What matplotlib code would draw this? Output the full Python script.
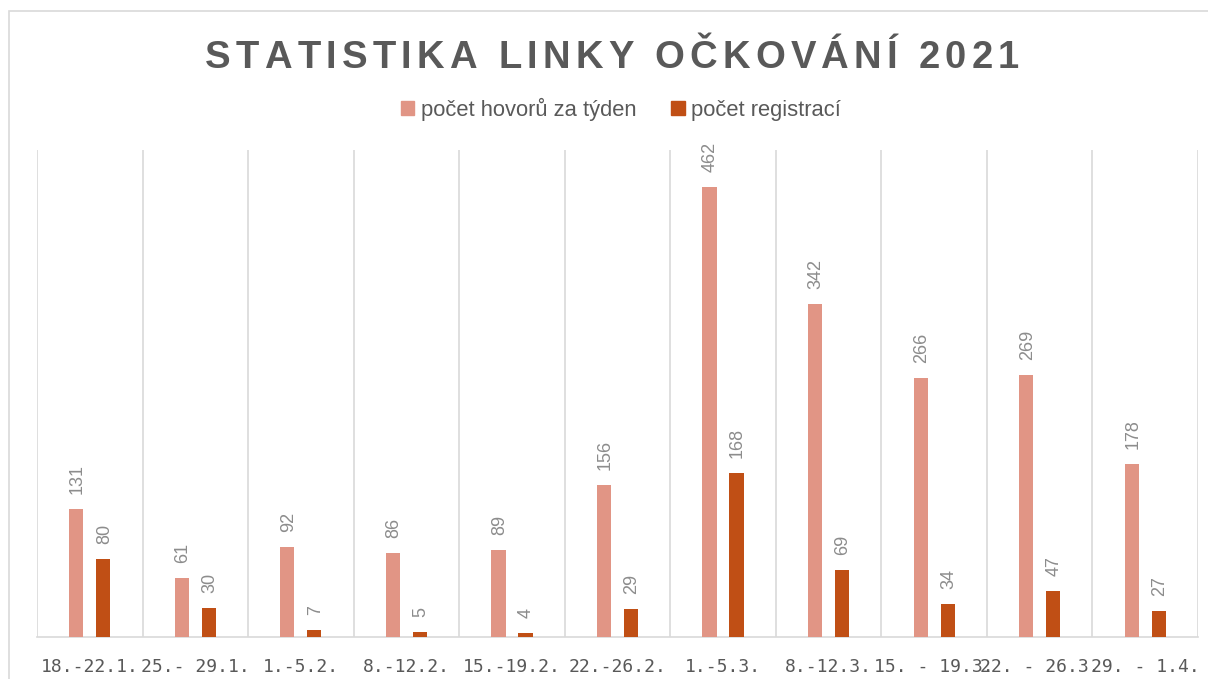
import matplotlib
matplotlib.use('Agg')
import matplotlib.pyplot as plt
from matplotlib.font_manager import FontProperties, findfont, get_font
from matplotlib.patches import Patch, Rectangle

# ----------
# Data
# ----------
weeks = ["18.-22.1.", "25.- 29.1.", "1.-5.2.", "8.-12.2.", "15.-19.2.", "22.-26.2.",
         "1.-5.3.", "8.-12.3.", "15. - 19.3.", "22. - 26.3.", "29. - 1.4."]
calls = [131, 61, 92, 86, 89, 156, 462, 342, 266, 269, 178]
regs = [80, 30, 7, 5, 4, 29, 168, 69, 34, 47, 27]

c_calls = "#E19585"
c_regs = "#C04F15"
c_text = "#595959"
c_grid = "#D9D9D9"

W, H = 1208, 679
fig = plt.figure(figsize=(W / 100, H / 100), dpi=100)
fig.patch.set_facecolor("white")

# chart border (cut off at right/bottom like the screenshot)
fig.patches.append(Rectangle((9 / W, -0.1), 1.1, 1 - 11 / H + 0.1, transform=fig.transFigure,
                             fill=False, edgecolor=c_grid, lw=1.2))

ax = fig.add_axes([37 / W, (H - 637) / H, 1161 / W, (637 - 150) / H])
x = list(range(len(weeks)))
bw = 0.135
off = 0.128
b1 = ax.bar([i - off for i in x], calls, bw, color=c_calls, zorder=3)
b2 = ax.bar([i + off for i in x], regs, bw, color=c_regs, zorder=3)

ax.set_xlim(-0.5, len(weeks) - 0.5)
ax.set_ylim(0, 500)
for i in range(len(weeks) + 1):
    ax.axvline(i - 0.5, color=c_grid, lw=1.2, zorder=1)
for s in ["top", "left", "right"]:
    ax.spines[s].set_visible(False)
ax.spines["bottom"].set_color(c_grid)
ax.spines["bottom"].set_linewidth(1.2)
ax.set_yticks([])
ax.patch.set_alpha(0)

# week labels: monospace gives the wide, letter-spaced look of the original
ax.set_xticks(x)
ax.set_xticklabels(weeks, family="DejaVu Sans Mono", fontsize=13, color=c_text)
ax.tick_params(axis="x", length=0, pad=15)

lab_font = dict(fontsize=13, color="#8C8C8C", rotation=90, family="Liberation Sans")
for bars, vals in ((b1, calls), (b2, regs)):
    for b, v in zip(bars, vals):
        ax.annotate(str(v), (b.get_x() + b.get_width() / 2, v), xytext=(1, 15),
                    textcoords="offset pixels", ha="center", va="bottom", **lab_font)


def advances(s, prop):
    # glyph advance widths in pixels (dpi 100)
    font = get_font(findfont(prop))
    font.set_size(prop.get_size_in_points(), 100)
    return [font.load_char(ord(ch)).linearHoriAdvance / 65536 for ch in s]


def spaced_text(cx, y_px, s, prop, spacing, color):
    # draws s centered at cx (pixels from left) with extra letter spacing
    adv = advances(s, prop)
    total = sum(adv) + spacing * (len(s) - 1)
    xpos = cx - total / 2
    for ch, a in zip(s, adv):
        if ch != " ":
            fig.text((xpos + a / 2) / W, 1 - y_px / H, ch, fontproperties=prop, color=color,
                     ha="center", va="baseline")
        xpos += a + spacing


title_prop = FontProperties(family="Liberation Sans", weight="bold", size=27.5)
spaced_text(612, 68, "STATISTIKA LINKY OČKOVÁNÍ 2021", title_prop, 5.2, c_text)

handles = [Patch(color=c_calls), Patch(color=c_regs)]
fig.legend(handles, ["počet hovorů za týden", "počet registrací"], loc="center",
           bbox_to_anchor=(621 / W, 1 - 109 / H), ncol=2, frameon=False,
           prop=FontProperties(family="Liberation Sans", size=15.8), labelcolor=c_text,
           handlelength=0.6, handleheight=0.6, handletextpad=0.3, columnspacing=1.6)

fig.savefig("out.png", dpi=100)
